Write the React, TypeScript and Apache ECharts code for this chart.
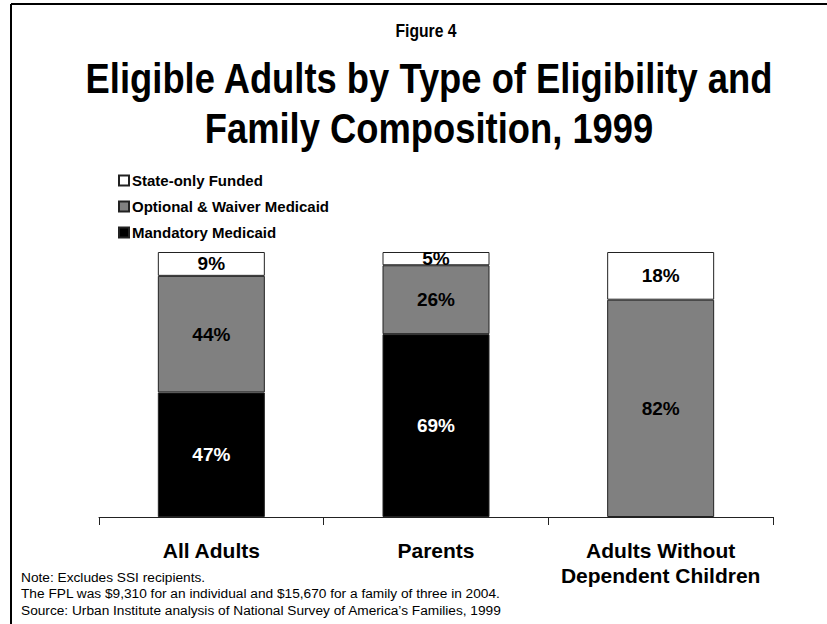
import React, { useEffect, useRef } from "react";
import * as echarts from "echarts";

const categories = ["All Adults", "Parents", "Adults Without\nDependent Children"];
const mandatory = [47, 69, null];
const optional = [44, 26, 82];
const stateOnly = [9, 5, 18];
const seriesNames = ["Mandatory Medicaid", "Optional & Waiver Medicaid", "State-only Funded"];
const figureLabel = "Figure 4";
const titleLines = ["Eligible Adults by Type of Eligibility and", "Family Composition, 1999"];
const notes = [
  "Note: Excludes SSI recipients.",
  "The FPL was $9,310 for an individual and $15,670 for a family of three in 2004.",
  "Source: Urban Institute analysis of National Survey of America\u2019s Families, 1999",
];

const FONT = "Liberation Sans, Arial, sans-serif";
const NARROW_X = 0.84;

function narrowText(text: string, x: number, y: number, size: number) {
  return {
    type: "text",
    x,
    y,
    scaleX: NARROW_X,
    style: {
      text,
      fontFamily: FONT,
      fontWeight: "bold",
      fontSize: size,
      fill: "#000",
      align: "center",
      verticalAlign: "middle",
      textAlign: "center",
      textVerticalAlign: "middle",
    },
  };
}

export default function App() {
  const ref = useRef<HTMLDivElement>(null);
  useEffect(() => {
    if (!ref.current) return;
    const chart = echarts.init(ref.current, null, { renderer: "svg" });
    const labelBase = {
      show: true,
      position: "inside",
      fontFamily: FONT,
      fontWeight: "bold",
      fontSize: 19,
      formatter: (p: any) => (p.value == null ? "" : p.value + "%"),
    };
    chart.setOption({
      animation: false,
      backgroundColor: "#fff",
      textStyle: { fontFamily: FONT },
      legend: {
        orient: "vertical",
        left: 118,
        top: 173,
        padding: 0,
        icon: "rect",
        itemWidth: 10,
        itemHeight: 10,
        itemGap: 11,
        data: [seriesNames[2], seriesNames[1], seriesNames[0]],
        textStyle: {
          fontFamily: FONT,
          fontWeight: "bold",
          fontSize: 15,
          lineHeight: 15,
          color: "#000",
          padding: [0, 0, 0, -2],
        },
      },
      grid: { left: 99, right: 54, top: 252, bottom: 107, containLabel: false },
      xAxis: {
        type: "category",
        data: categories,
        axisLine: { lineStyle: { color: "#222", width: 1 } },
        axisTick: { show: true, length: 8, lineStyle: { color: "#222" } },
        axisLabel: {
          margin: 21,
          fontFamily: FONT,
          fontWeight: "bold",
          fontSize: 21,
          lineHeight: 25,
          color: "#000",
          interval: 0,
        },
      },
      yAxis: { type: "value", min: 0, max: 100, show: false },
      series: [
        {
          name: seriesNames[0],
          type: "bar",
          stack: "a",
          barWidth: 107,
          data: mandatory,
          itemStyle: { color: "#000000", borderColor: "#222", borderWidth: 1 },
          label: { ...labelBase, color: "#fff" },
        },
        {
          name: seriesNames[1],
          type: "bar",
          stack: "a",
          barWidth: 107,
          data: optional,
          itemStyle: { color: "#808080", borderColor: "#222", borderWidth: 1 },
          label: { ...labelBase, color: "#000" },
        },
        {
          name: seriesNames[2],
          type: "bar",
          stack: "a",
          barWidth: 107,
          data: stateOnly,
          itemStyle: { color: "#ffffff", borderColor: "#222", borderWidth: 1 },
          label: { ...labelBase, color: "#000" },
        },
      ],
      graphic: [
        { type: "line", shape: { x1: 11, y1: 4, x2: 827, y2: 4 }, style: { stroke: "#000", lineWidth: 2 } },
        { type: "line", shape: { x1: 11, y1: 4, x2: 11, y2: 624 }, style: { stroke: "#000", lineWidth: 2 } },
        narrowText(figureLabel, 426, 31, 18.7),
        narrowText(titleLines[0], 429, 78, 43.3),
        narrowText(titleLines[1], 429, 127.5, 43.3),
        ...notes.map((t, i) => ({
          type: "text",
          left: 21,
          top: 570 + i * 16.5,
          style: { text: t, fontFamily: FONT, fontSize: 13.7, fill: "#000" },
        })),
      ],
    });
    return () => chart.dispose();
  }, []);
  return (
    <div
      ref={ref}
      style={{ position: "fixed", left: 0, top: 0, width: 827, height: 624, background: "#fff" }}
    />
  );
}
